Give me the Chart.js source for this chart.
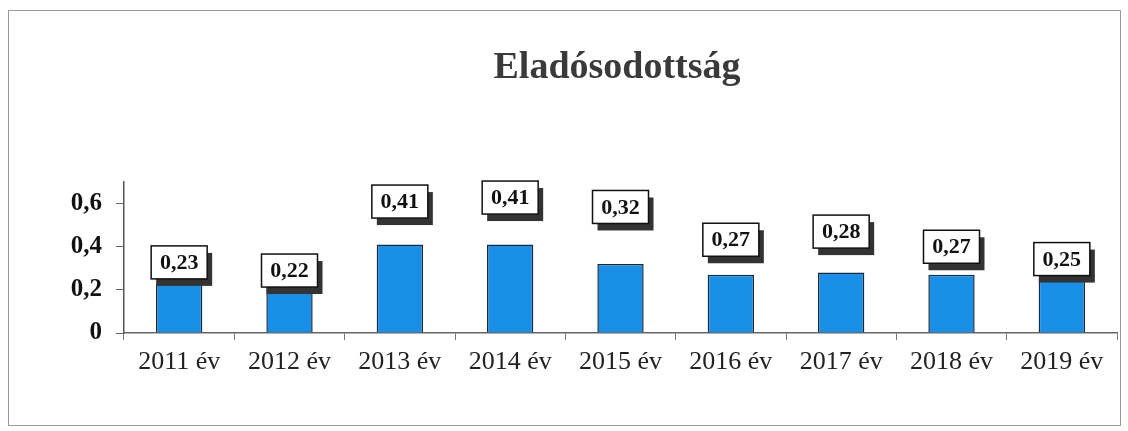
<!DOCTYPE html>
<html>
<head>
<meta charset="utf-8">
<script src="https://cdn.jsdelivr.net/npm/chart.js@4"></script>
<style>
  body { margin: 0; background: #fff; }
  #wrap { width: 1128px; height: 431px; }
</style>
</head>
<body>
<div id="wrap"><canvas id="grafica" width="1128" height="431"></canvas></div>
<script>
// datos
const chartTitle = "Eladósodottság";
const years = ["2011 év", "2012 év", "2013 év", "2014 év", "2015 év", "2016 év", "2017 év", "2018 év", "2019 év"];
const debtRatio = [0.23, 0.22, 0.41, 0.41, 0.32, 0.27, 0.28, 0.27, 0.25];
const yTicks = [0, 0.2, 0.4, 0.6];

// how far each value box sits above its bar (px)
const labelLift = [21, 15, 43, 47, 57, 35, 41, 28, 20];

const comma = (v) => String(v).replace(".", ",");

// outer frame + title
const framePlugin = {
  id: "frame",
  beforeDraw(chart) {
    const c = chart.ctx;
    c.save();
    c.fillStyle = "#fff";
    c.fillRect(0, 0, chart.width, chart.height);
    c.strokeStyle = "#9a9a9a";
    c.lineWidth = 1;
    c.strokeRect(8.5, 10.5, 1112, 415);
    c.fillStyle = "#3a3a3a";
    c.font = "bold 38px 'Liberation Serif'";
    c.textAlign = "center";
    c.textBaseline = "middle";
    c.fillText(chartTitle, 617, 68);
    c.restore();
  }
};

// value boxes with shadow
const boxLabels = {
  id: "boxLabels",
  afterDatasetsDraw(chart) {
    const c = chart.ctx;
    const meta = chart.getDatasetMeta(0);
    c.save();
    c.font = "bold 22px 'Liberation Serif'";
    c.textAlign = "center";
    c.textBaseline = "middle";
    meta.data.forEach((bar, i) => {
      const cx = bar.x;
      const cy = bar.y - labelLift[i];
      const w = 56, h = 33;
      c.fillStyle = "#333";
      c.fillRect(cx - w / 2 + 5, cy - h / 2 + 7, w, h);
      c.fillStyle = "#fff";
      c.fillRect(cx - w / 2, cy - h / 2, w, h);
      c.strokeStyle = "#111";
      c.lineWidth = 1.5;
      c.strokeRect(cx - w / 2, cy - h / 2, w, h);
      c.fillStyle = "#111";
      c.fillText(comma(debtRatio[i].toFixed(2)), cx, cy + 1);
    });
    c.restore();
  }
};

const ctx = document.getElementById("grafica").getContext("2d");
const chart = new Chart(ctx, {
  type: "bar",
  data: {
    labels: years,
    datasets: [{
      data: debtRatio,
      backgroundColor: "#1a8fe8",
      borderColor: "#1c2a3a",
      borderWidth: 1.5,
      barPercentage: 0.42,
      categoryPercentage: 1
    }]
  },
  options: {
    responsive: false,
    animation: false,
    layout: { padding: { left: 0, right: 11, top: 182, bottom: 0 } },
    plugins: {
      legend: { display: false },
      tooltip: { enabled: false },
      title: { display: false }
    },
    scales: {
      x: {
        offset: true,
        grid: { display: true, drawOnChartArea: false, offset: true, tickLength: 7, color: "#777" },
        border: { color: "#666", width: 1.5 },
        ticks: {
          color: "#222",
          padding: 7,
          font: { family: "'Liberation Serif'", size: 26 }
        },
        afterFit(scale) { scale.height = 98; }
      },
      y: {
        min: 0,
        max: 0.7,
        afterBuildTicks(scale) { scale.ticks = yTicks.map(v => ({ value: v })); },
        grid: { display: true, drawOnChartArea: false, tickLength: 8, color: "#666" },
        border: { color: "#555", width: 1.5 },
        ticks: {
          color: "#111",
          padding: 14,
          font: { family: "'Liberation Serif'", size: 25, weight: "bold" },
          callback: (v) => comma(v)
        },
        afterFit(scale) { scale.width = 124; }
      }
    }
  },
  plugins: [framePlugin, boxLabels]
});
</script>
</body>
</html>
